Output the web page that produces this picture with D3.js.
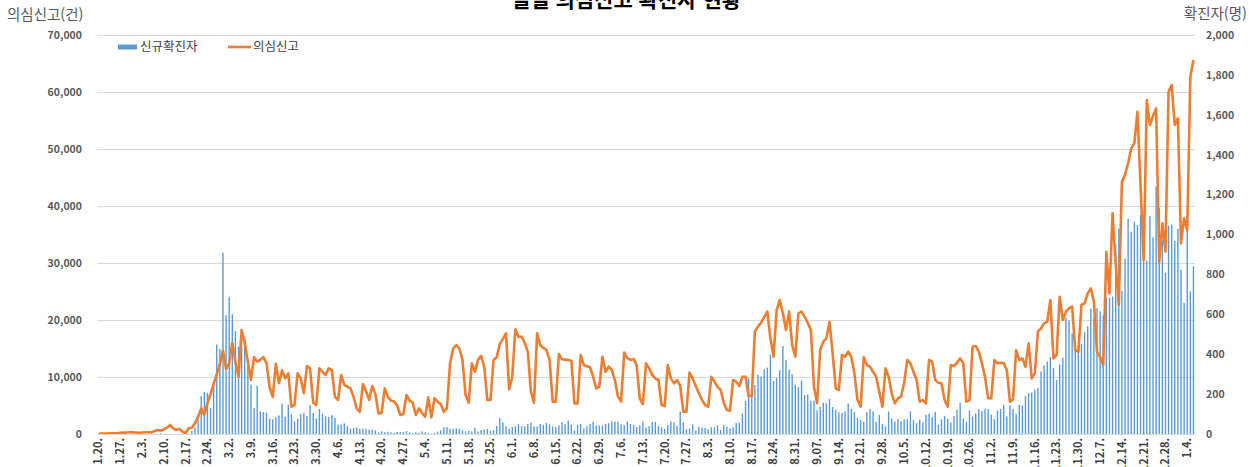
<!DOCTYPE html>
<html lang="ko">
<head>
<meta charset="utf-8">
<script src="https://d3js.org/d3.v7.min.js"></script>
<style>
  body { margin: 0; background: #fff; }
  text { font-family: "Noto Sans CJK KR", "Noto Sans", sans-serif; }
</style>
<title>일일 의심신고 확진자 현황</title>
</head>
<body>
<div id="chart"></div>
<script>
  // days from 2020-01-20 to 2021-01-06
  const days = d3.timeDay.range(new Date(2020, 0, 20), new Date(2021, 0, 7)).map(d3.timeFormat("%-m.%-d."));

  const tickLabels = ["1.20.", "1.27.", "2.3.", "2.10.", "2.17.", "2.24.", "3.2.", "3.9.", "3.16.", "3.23.", "3.30.",
    "4.6.", "4.13.", "4.20.", "4.27.", "5.4.", "5.11.", "5.18.", "5.25.", "6.1.", "6.8.", "6.15.", "6.22.", "6.29.",
    "7.6.", "7.13.", "7.20.", "7.27.", "8.3.", "8.10.", "8.17.", "8.24.", "8.31.", "9.07.", "9.14.", "9.21.", "9.28.",
    "10.5.", "10.12.", "10.19.", "10.26.", "11.2.", "11.9.", "11.16.", "11.23.", "11.30.", "12.7.", "12.14.", "12.21.",
    "12.28.", "1.4."];

  const leftTicks = [0, 10000, 20000, 30000, 40000, 50000, 60000, 70000];
  const rightTicks = [0, 200, 400, 600, 800, 1000, 1200, 1400, 1600, 1800, 2000];

  // 신규확진자 (right axis)
  const confirmed = [
    1, 0, 0, 0, 1, 0, 1, 1, 0, 0, 2, 4,                                   // Jan
    1, 3, 0, 1, 2, 4, 1, 0, 3, 0, 0, 1, 0, 0, 0, 0, 1, 1, 15, 34, 74, 190, 210, 207, 130, 253, 449, 427, 909, // Feb
    595, 686, 600, 516, 438, 518, 483, 367, 248, 131, 242, 114, 110, 107, 76, 74, 84, 93, 152, 87, 147, 98, 64, 76, 100, 104, 91, 146, 105, 78, 125, // Mar
    101, 89, 86, 94, 81, 47, 47, 53, 39, 27, 30, 32, 25, 27, 27, 22, 22, 18, 8, 13, 9, 11, 8, 6, 10, 10, 10, 14, 9, 4, // Apr
    9, 6, 13, 8, 3, 2, 4, 12, 18, 34, 35, 27, 26, 29, 27, 19, 13, 15, 13, 32, 12, 20, 23, 25, 16, 19, 40, 79, 58, 39, 27, // May
    35, 38, 49, 39, 39, 51, 57, 38, 38, 50, 45, 56, 49, 37, 34, 43, 59, 49, 67, 48, 17, 46, 51, 28, 39, 51, 62, 42, 42, 43, // Jun
    51, 54, 63, 63, 61, 48, 44, 63, 50, 45, 35, 44, 62, 33, 39, 61, 60, 39, 34, 26, 45, 63, 59, 41, 113, 58, 25, 28, 48, 18, 36, // Jul
    31, 30, 23, 34, 33, 43, 20, 43, 36, 28, 34, 54, 56, 103, 166, 279, 197, 246, 297, 288, 324, 332, 397, 266, 280, 320, 441, 371, 323, 299, 248, // Aug
    235, 267, 195, 198, 168, 167, 119, 136, 156, 155, 176, 136, 121, 109, 106, 113, 153, 126, 110, 82, 70, 61, 110, 125, 114, 61, 95, 50, 38, 113, // Sep
    77, 63, 75, 64, 73, 75, 114, 69, 54, 72, 58, 97, 102, 84, 110, 47, 73, 91, 76, 58, 91, 121, 155, 77, 61, 119, 88, 103, 125, 114, 127, // Oct
    124, 97, 75, 118, 125, 145, 89, 143, 126, 100, 146, 143, 191, 205, 208, 223, 230, 313, 343, 363, 386, 330, 271, 349, 382, 583, 569, 504, 450, 438, // Nov
    451, 511, 540, 629, 583, 631, 615, 594, 686, 682, 689, 950, 1030, 718, 880, 1078, 1014, 1064, 1047, 1097, 926, 869, 1092, 985, 1241, 1132, 970, 808, 1045, 1050, 967, // Dec
    1029, 824, 657, 1020, 715, 840                                        // Jan
  ];

  // 의심신고 (left axis)
  const reports = [
    50, 60, 80, 100, 120, 130, 130,
    200, 250, 250, 300, 300, 250, 200,
    250, 300, 300, 300, 500, 700, 600,
    800, 1100, 1580, 1000, 700, 900, 400,
    150, 1000, 1110, 1870, 3040, 4500, 3330,
    5380, 7000, 8800, 10500, 12280, 14620, 11400,
    12400, 16000, 12690, 10050, 18240, 16000, 12700,
    9500, 13500, 12700, 13000, 13500, 12400, 8200,
    6500, 12300, 8900, 11200, 9760, 10640, 4800,
    5090, 10640, 9760, 7130, 11930, 11520, 5500,
    5090, 11520, 10940, 10350, 11520, 11230, 6500,
    5960, 10350, 8600, 8300, 8000, 6500, 4500,
    3900, 8770, 7500, 6000, 8420, 7000, 3625,
    3700, 8000, 6550, 5850, 5700, 5000, 3330,
    3500, 6840, 5850, 5500, 3330, 4500, 3740,
    3040, 6430, 2920, 6260, 5670, 5260, 3900,
    4500, 12400, 15000, 15600, 15000, 13000, 6840,
    5500, 12400, 10900, 13000, 13700, 11800, 5960,
    5960, 13000, 13450, 15800, 16700, 17660, 7830,
    10000, 18360, 17070, 17070, 16000, 14440, 7430,
    5500, 17660, 15610, 15100, 14730, 13000, 5670,
    5670, 14030, 13100, 13050, 13000, 12860, 5380,
    5380, 13860, 12100, 11900, 11700, 10050, 8000,
    8300, 13560, 10930, 11810, 11230, 9470, 6550,
    5670, 14270, 13300, 13000, 13150, 12100, 6260,
    5260, 12400, 11500, 10350, 9760, 9470, 5090,
    4910, 12100, 9760, 8890, 9470, 8500, 3900,
    3900, 10760, 9760, 8420, 7130, 6000, 5090,
    4800, 10050, 9180, 8300, 7720, 5500, 4200,
    4090, 9470, 9180, 8420, 10050, 10050, 6670,
    6670, 17950, 18830, 19530, 20500, 21460, 16780,
    13560, 21750, 23500, 21170, 18240, 21460, 15600,
    13560, 21170, 21460, 20580, 19500, 18240, 8300,
    5380, 14730, 16200, 16780, 19700, 14150, 8000,
    7720, 13860, 13560, 14440, 13560, 10640, 6000,
    4800, 13450, 12100, 11810, 10930, 10050, 7430,
    4800, 11520, 10050, 7130, 5380, 6260, 6550,
    9000, 12980, 12400, 10930, 9470, 5670, 5960,
    5380, 12980, 12690, 9470, 9000, 8890, 5960,
    4800, 12100, 11930, 12500, 13270, 12400, 5670,
    5960, 15320, 15440, 14440, 12400, 10000, 6260,
    6260, 12980, 12400, 12510, 12400, 11230, 5670,
    6080, 14730, 12980, 13270, 11810, 15900, 9760,
    10640, 17950, 18530, 19410, 19700, 23500, 13270,
    13860, 24090, 20000, 21460, 22040, 22340, 14730,
    14440, 22630, 22920, 24670, 25550, 23210, 14440,
    13500, 12100, 31980, 24670, 38700, 29940, 22630,
    44260, 45500, 47480, 50110, 50990, 56540, 43500,
    30520, 58590, 54200, 55780, 57120, 30230, 36950,
    31980, 60050, 61220, 54200, 55370, 33440, 37830,
    35780, 62680, 65600
  ];

  const W = 1252, H = 467;
  const margin = { top: 35, right: 57, bottom: 33, left: 97 },
    width = W - margin.left - margin.right,
    height = H - margin.top - margin.bottom;

  const svg = d3.select("#chart")
    .append("svg")
    .attr("width", W)
    .attr("height", H);

  const g = svg.append("g")
    .attr("transform", `translate(${margin.left},${margin.top})`);

  const x = d3.scaleBand()
    .domain(days)
    .range([0, width]);

  const yL = d3.scaleLinear().domain([0, 70000]).range([height, 0]);
  const yR = d3.scaleLinear().domain([0, 2000]).range([height, 0]);

  // grid
  g.append("g")
    .call(d3.axisLeft(yL).tickValues(leftTicks).tickSize(-width).tickFormat(""))
    .call(s => s.select(".domain").remove())
    .call(s => s.selectAll("line").attr("stroke", "#d9d9d9"));

  // bars
  const barW = 1.4;
  g.selectAll("rect.bar")
    .data(confirmed)
    .join("rect")
    .attr("class", "bar")
    .attr("x", (d, i) => x(days[i]) + (x.bandwidth() - barW) / 2)
    .attr("y", d => yR(d))
    .attr("width", barW)
    .attr("height", d => height - yR(d))
    .attr("fill", "#5B9BD5");

  // line
  const line = d3.line()
    .x((d, i) => x(days[i]) + x.bandwidth() / 2)
    .y(d => yL(d));
  g.append("path")
    .datum(reports)
    .attr("d", line)
    .attr("fill", "none")
    .attr("stroke", "#ED7D31")
    .attr("stroke-width", 2.6)
    .attr("stroke-linejoin", "round");

  // x axis
  const weekTicks = days.filter((d, i) => i % 7 === 0);
  g.append("g")
    .attr("transform", `translate(0,${height})`)
    .call(d3.axisBottom(x).tickValues(weekTicks).tickSize(0).tickFormat((d, i) => tickLabels[i]))
    .call(s => s.select(".domain").attr("stroke", "#d9d9d9"))
    .selectAll("text")
    .attr("transform", "rotate(-90)")
    .attr("x", -4)
    .attr("y", 0)
    .attr("dy", "0.35em")
    .style("text-anchor", "end")
    .style("font-size", "11px")
    .style("font-weight", "bold")
    .attr("fill", "#404040");

  // left axis
  g.append("g")
    .call(d3.axisLeft(yL).tickValues(leftTicks).tickSize(0).tickPadding(15).tickFormat(d3.format(",")))
    .call(s => s.select(".domain").remove())
    .selectAll("text")
    .style("font-size", "10.5px")
    .style("font-weight", "bold")
    .attr("fill", "#595959");

  // right axis
  g.append("g")
    .attr("transform", `translate(${width},0)`)
    .call(d3.axisRight(yR).tickValues(rightTicks).tickSize(0).tickPadding(11).tickFormat(d3.format(",")))
    .call(s => s.select(".domain").remove())
    .selectAll("text")
    .style("font-size", "10.5px")
    .style("font-weight", "bold")
    .attr("fill", "#595959");

  // titles
  svg.append("text")
    .attr("x", 626).attr("y", 7)
    .attr("text-anchor", "middle")
    .style("font-size", "21px").style("font-weight", "bold")
    .attr("fill", "#000")
    .text("일일 의심신고 확진자 현황");

  svg.append("text")
    .attr("x", 7).attr("y", 20)
    .style("font-size", "14.5px")
    .attr("fill", "#595959")
    .text("의심신고(건)");

  svg.append("text")
    .attr("x", 1247).attr("y", 19)
    .attr("text-anchor", "end")
    .style("font-size", "14.5px")
    .attr("fill", "#595959")
    .text("확진자(명)");

  // legend
  const lg = svg.append("g").attr("transform", "translate(118,47)");
  lg.append("rect").attr("x", 0).attr("y", -2.5).attr("width", 19).attr("height", 5).attr("fill", "#5B9BD5");
  lg.append("text").attr("x", 22).attr("y", 0).attr("dy", "0.35em")
    .style("font-size", "12.5px").attr("fill", "#404040").text("신규확진자");
  lg.append("line").attr("x1", 110).attr("x2", 133).attr("y1", 0).attr("y2", 0)
    .attr("stroke", "#ED7D31").attr("stroke-width", 2.6);
  lg.append("text").attr("x", 135).attr("y", 0).attr("dy", "0.35em")
    .style("font-size", "12.5px").attr("fill", "#404040").text("의심신고");
</script>
</body>
</html>
